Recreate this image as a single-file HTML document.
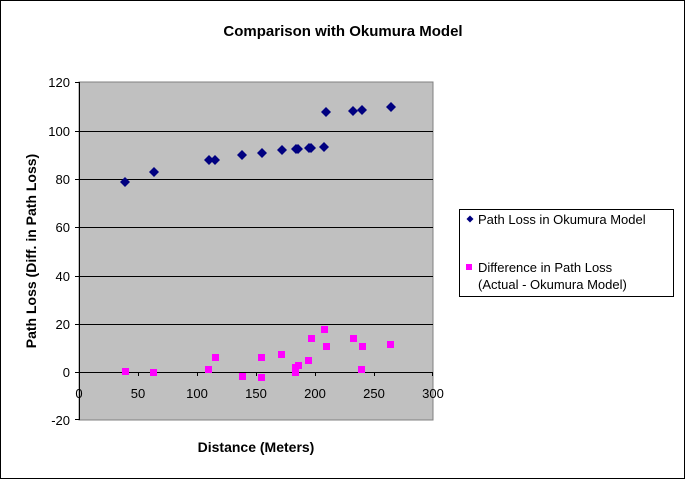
<!DOCTYPE html>
<html><head><style>body{margin:0;background:#fff}svg{display:block}</style></head><body>
<svg width="686" height="480" viewBox="0 0 686 480" xmlns="http://www.w3.org/2000/svg" font-family="Liberation Sans, Arial, sans-serif">
<rect x="0.5" y="0.5" width="684" height="478" fill="#fff" stroke="#000"/>
<text x="343" y="36" text-anchor="middle" font-size="15" font-weight="bold">Comparison with Okumura Model</text>
<rect x="79" y="82" width="354" height="338" fill="#c0c0c0" stroke="#808080"/>
<g stroke="#000" stroke-width="1">
<line x1="79" y1="131.5" x2="433" y2="131.5"/><line x1="79" y1="179.5" x2="433" y2="179.5"/>
<line x1="79" y1="227.5" x2="433" y2="227.5"/><line x1="79" y1="276.5" x2="433" y2="276.5"/>
<line x1="79" y1="324.5" x2="433" y2="324.5"/><line x1="79" y1="372.5" x2="433" y2="372.5"/>
<line x1="79.5" y1="82" x2="79.5" y2="420"/>
<line x1="75" y1="82.5" x2="79" y2="82.5"/><line x1="75" y1="131.5" x2="79" y2="131.5"/><line x1="75" y1="179.5" x2="79" y2="179.5"/><line x1="75" y1="227.5" x2="79" y2="227.5"/><line x1="75" y1="276.5" x2="79" y2="276.5"/><line x1="75" y1="324.5" x2="79" y2="324.5"/><line x1="75" y1="372.5" x2="79" y2="372.5"/><line x1="75" y1="419.5" x2="79" y2="419.5"/>
<line x1="138.5" y1="372" x2="138.5" y2="376"/><line x1="197.5" y1="372" x2="197.5" y2="376"/><line x1="256.5" y1="372" x2="256.5" y2="376"/><line x1="315.5" y1="372" x2="315.5" y2="376"/><line x1="374.5" y1="372" x2="374.5" y2="376"/><line x1="432.5" y1="372" x2="432.5" y2="376"/>
</g>
<g font-size="13" text-anchor="end">
<text x="70" y="87">120</text><text x="70" y="136">100</text><text x="70" y="184">80</text><text x="70" y="232">60</text><text x="70" y="281">40</text><text x="70" y="329">20</text><text x="70" y="377">0</text><text x="70" y="425">-20</text>
</g>
<g font-size="13" text-anchor="middle">
<text x="79" y="398">0</text><text x="138" y="398">50</text><text x="197" y="398">100</text><text x="256" y="398">150</text><text x="315" y="398">200</text><text x="374" y="398">250</text><text x="433" y="398">300</text>
</g>
<text x="256" y="452" text-anchor="middle" font-size="14" font-weight="bold">Distance (Meters)</text>
<text transform="translate(36,251) rotate(-90)" text-anchor="middle" font-size="14" font-weight="bold">Path Loss (Diff. in Path Loss)</text>
<g fill="#000080">
<path d="M0,-5L5,0L0,5L-5,0Z" transform="translate(125,182)"/>
<path d="M0,-5L5,0L0,5L-5,0Z" transform="translate(154,172)"/>
<path d="M0,-5L5,0L0,5L-5,0Z" transform="translate(209,160)"/>
<path d="M0,-5L5,0L0,5L-5,0Z" transform="translate(215,160)"/>
<path d="M0,-5L5,0L0,5L-5,0Z" transform="translate(242,155)"/>
<path d="M0,-5L5,0L0,5L-5,0Z" transform="translate(262,153)"/>
<path d="M0,-5L5,0L0,5L-5,0Z" transform="translate(282,150)"/>
<path d="M0,-5L5,0L0,5L-5,0Z" transform="translate(296,149)"/>
<path d="M0,-5L5,0L0,5L-5,0Z" transform="translate(298,149)"/>
<path d="M0,-5L5,0L0,5L-5,0Z" transform="translate(309,148)"/>
<path d="M0,-5L5,0L0,5L-5,0Z" transform="translate(311,148)"/>
<path d="M0,-5L5,0L0,5L-5,0Z" transform="translate(324,147)"/>
<path d="M0,-5L5,0L0,5L-5,0Z" transform="translate(326,112)"/>
<path d="M0,-5L5,0L0,5L-5,0Z" transform="translate(353,111)"/>
<path d="M0,-5L5,0L0,5L-5,0Z" transform="translate(362,110)"/>
<path d="M0,-5L5,0L0,5L-5,0Z" transform="translate(391,107)"/>
</g>
<g fill="#ff00ff">
<rect x="122" y="368" width="7" height="7"/><rect x="150" y="369" width="7" height="7"/><rect x="205" y="366" width="7" height="7"/><rect x="212" y="354" width="7" height="7"/><rect x="239" y="373" width="7" height="7"/><rect x="258" y="354" width="7" height="7"/><rect x="258" y="374" width="7" height="7"/><rect x="278" y="351" width="7" height="7"/><rect x="292" y="364" width="7" height="7"/><rect x="292" y="369" width="7" height="7"/><rect x="295" y="362" width="7" height="7"/><rect x="305" y="357" width="7" height="7"/><rect x="308" y="335" width="7" height="7"/><rect x="321" y="326" width="7" height="7"/><rect x="323" y="343" width="7" height="7"/><rect x="350" y="335" width="7" height="7"/><rect x="359" y="343" width="7" height="7"/><rect x="358" y="366" width="7" height="7"/><rect x="387" y="341" width="7" height="7"/>
</g>
<rect x="459.5" y="209.5" width="214" height="87" fill="#fff" stroke="#000"/>
<path d="M0,-3.5L3.5,0L0,3.5L-3.5,0Z" transform="translate(470,219)" fill="#000080"/>
<rect x="466" y="264" width="6" height="6" fill="#ff00ff"/>
<g font-size="13">
<text x="478" y="224">Path Loss in Okumura Model</text>
<text x="478" y="272">Difference in Path Loss</text>
<text x="478" y="289">(Actual - Okumura Model)</text>
</g>
</svg>
</body></html>
